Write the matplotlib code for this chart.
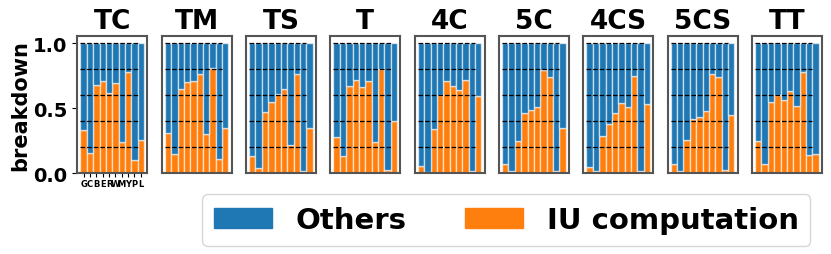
import numpy as np
import matplotlib
matplotlib.use("Agg")
import matplotlib.pyplot as plt
from matplotlib.patches import Patch

titles = ["TC", "TM", "TS", "T", "4C", "5C", "4CS", "5CS", "TT"]
apps = ["G", "C", "B", "E", "R", "W", "M", "Y", "P", "L"]

# share of IU computation per app, per panel (Others = 1 - this)
iu = {
    "TC":  [0.33, 0.16, 0.68, 0.71, 0.62, 0.69, 0.24, 0.78, 0.10, 0.26],
    "TM":  [0.31, 0.15, 0.65, 0.70, 0.71, 0.76, 0.30, 0.81, 0.11, 0.35],
    "TS":  [0.13, 0.04, 0.47, 0.55, 0.61, 0.65, 0.22, 0.76, 0.02, 0.35],
    "T":   [0.28, 0.13, 0.67, 0.72, 0.66, 0.71, 0.24, 0.80, 0.03, 0.40],
    "4C":  [0.06, 0.01, 0.34, 0.60, 0.71, 0.67, 0.64, 0.72, 0.02, 0.59],
    "5C":  [0.07, 0.02, 0.25, 0.46, 0.49, 0.51, 0.79, 0.74, 0.02, 0.35],
    "4CS": [0.05, 0.02, 0.29, 0.38, 0.46, 0.54, 0.51, 0.75, 0.02, 0.53],
    "5CS": [0.07, 0.02, 0.26, 0.42, 0.43, 0.48, 0.76, 0.74, 0.03, 0.45],
    "TT":  [0.25, 0.07, 0.55, 0.60, 0.56, 0.63, 0.52, 0.78, 0.14, 0.15],
}

blue = "#1f77b4"
orange = "#ff7f0e"

fig, axes = plt.subplots(1, 9, figsize=(8.31, 2.55), dpi=100, sharey=True)
fig.subplots_adjust(left=0.093, right=0.989, top=0.853, bottom=0.316, wspace=0.206)

x = np.arange(len(apps))
for i, (ax, t) in enumerate(zip(axes, titles)):
    v = np.array(iu[t])
    ax.bar(x, v, width=1.0, color=orange, edgecolor=(1, 1, 1, 0.6), linewidth=1)
    ax.bar(x, 1 - v, bottom=v, width=1.0, color=blue, edgecolor=(1, 1, 1, 0.6), linewidth=1)
    ax.hlines([0.2, 0.4, 0.6, 0.8, 1.0], -0.5, len(apps) - 1.5, colors="black",
              linestyles="dashed", linewidth=0.9)
    ax.set_title(t, fontsize=19, fontweight="bold")
    for s in ax.spines.values():
        s.set_color("#555555")
        s.set_linewidth(1.5)
    if i == 0:
        ax.set_xticks(x)
        ax.set_xticklabels(apps, fontsize=6, fontweight="bold")
        ax.tick_params(axis="x", length=3, pad=1)
        ax.set_yticks([0.0, 0.5, 1.0])
        ax.set_yticklabels(["0.0", "0.5", "1.0"], fontsize=14, fontweight="bold")
        ax.set_ylabel("breakdown", fontsize=15, fontweight="bold", labelpad=2)
    else:
        ax.set_xticks([])
        ax.tick_params(axis="y", left=False, labelleft=False)

handles = [Patch(color=blue, label="Others"), Patch(color=orange, label="IU computation")]
fig.legend(handles=handles, loc="center", bbox_to_anchor=(0.6095, 0.133), ncol=2,
           prop={"size": 21, "weight": "bold"})

fig.savefig("out.png", dpi=100)
